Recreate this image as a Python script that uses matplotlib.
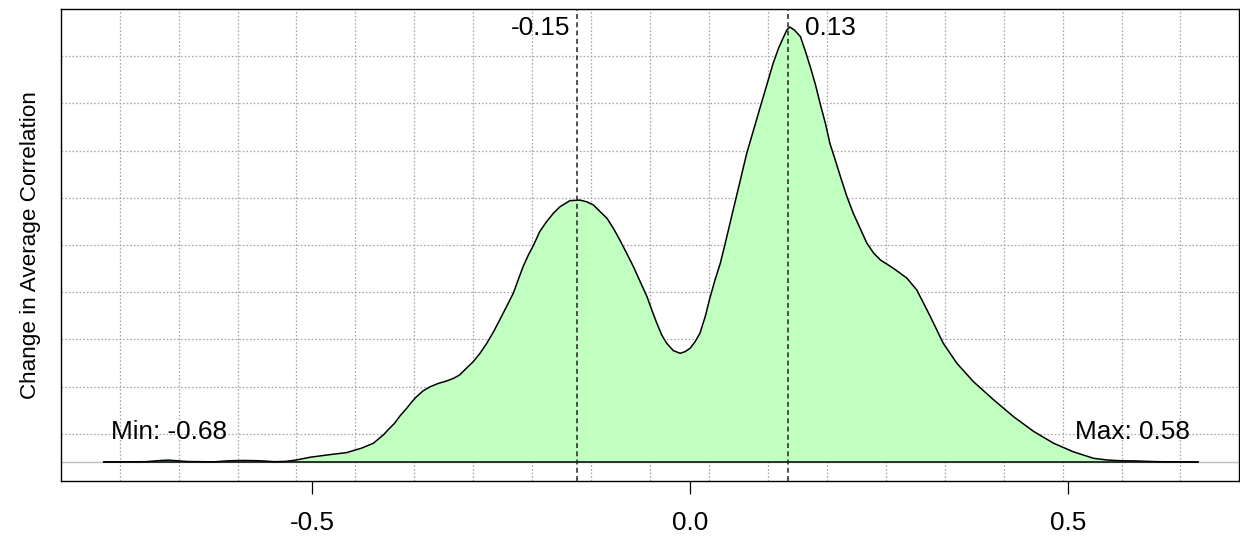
import numpy as np
import matplotlib
matplotlib.use("Agg")
import matplotlib.pyplot as plt

plt.rcParams['font.family'] = ['Liberation Sans', 'DejaVu Sans']

# Density curve of the change in average correlation
corr_change = [-0.776, -0.72, -0.70, -0.69, -0.665, -0.63, -0.61, -0.59, -0.57, -0.55, -0.535,
               -0.521, -0.503, -0.477, -0.455, -0.435, -0.419, -0.406, -0.399, -0.391, -0.384,
               -0.375, -0.368, -0.362, -0.353, -0.344, -0.333, -0.322, -0.313, -0.305, -0.296,
               -0.287, -0.278, -0.269, -0.260, -0.252, -0.243, -0.234, -0.221, -0.214, -0.207,
               -0.199, -0.190, -0.181, -0.172, -0.159, -0.146, -0.137, -0.128, -0.119, -0.110,
               -0.1015, -0.093, -0.084, -0.075, -0.066, -0.057, -0.0507, -0.044, -0.0375, -0.031,
               -0.022, -0.013, -0.0066, 0.000, 0.0066, 0.013, 0.020, 0.026, 0.033, 0.040,
               0.046, 0.057, 0.066, 0.075, 0.084, 0.093, 0.1015, 0.110, 0.117, 0.124,
               0.128, 0.132, 0.138, 0.146, 0.152, 0.159, 0.166, 0.172, 0.179, 0.185,
               0.192, 0.199, 0.2075, 0.216, 0.225, 0.234, 0.243, 0.252, 0.269, 0.278,
               0.287, 0.300, 0.309, 0.318, 0.335, 0.353, 0.375, 0.402, 0.428, 0.455,
               0.481, 0.507, 0.534, 0.552, 0.57, 0.59, 0.605, 0.62, 0.64, 0.672]
density = [0.000, 0.002, 0.010, 0.012, 0.003, 0.001, 0.008, 0.010, 0.008, 0.002, 0.004,
           0.013, 0.031, 0.048, 0.061, 0.090, 0.123, 0.177, 0.214, 0.254, 0.301,
           0.352, 0.395, 0.428, 0.467, 0.493, 0.515, 0.531, 0.548, 0.570, 0.614,
           0.657, 0.712, 0.778, 0.854, 0.930, 1.017, 1.105, 1.280, 1.356, 1.422,
           1.509, 1.574, 1.629, 1.673, 1.712, 1.716, 1.705, 1.684, 1.640, 1.597,
           1.531, 1.455, 1.368, 1.280, 1.181, 1.083, 0.996, 0.909, 0.832, 0.778,
           0.729, 0.712, 0.723, 0.745, 0.788, 0.843, 0.952, 1.070, 1.193, 1.302,
           1.422, 1.651, 1.836, 2.023, 2.175, 2.328, 2.470, 2.613, 2.710, 2.787,
           2.830, 2.850, 2.830, 2.787, 2.700, 2.590, 2.470, 2.350, 2.220, 2.088,
           1.980, 1.869, 1.739, 1.629, 1.531, 1.433, 1.368, 1.323, 1.269, 1.237,
           1.204, 1.127, 1.040, 0.952, 0.778, 0.647, 0.526, 0.406, 0.297, 0.199,
           0.123, 0.067, 0.024, 0.013, 0.008, 0.007, 0.004, 0.002, 0.001, 0.000]

mode_values = [-0.15, 0.13]
mode_labels = ["-0.15", "0.13"]
min_value = -0.68
max_value = 0.58
xtick_values = [-0.5, 0.0, 0.5]
xtick_labels = ["-0.5", "0.0", "0.5"]
ylabel = "Change in Average Correlation"

x = np.array(corr_change)
d = np.array(density)

fig = plt.figure(figsize=(12.4, 5.37), dpi=100)
ax = fig.add_axes([0.049, 0.1043, 0.9505, 0.879])

xmin, xmax = -0.8328, 0.7269
ymin, ymax = -0.1245, 2.968
ax.set_xlim(xmin, xmax)
ax.set_ylim(ymin, ymax)

grid_kw = dict(color='#a6a6a6', lw=0.9, dashes=(1.3, 1.6), zorder=0.5)
for gx in np.linspace(xmin, xmax, 21)[1:-1]:
    ax.axvline(gx, **grid_kw)
for gy in np.linspace(ymin, ymax, 11)[1:-1]:
    ax.axhline(gy, **grid_kw)

ax.axhline(0, color='#bebebe', lw=1.0, zorder=1)

ax.fill_between(x, 0, d, color='#C1FFC1', lw=0, zorder=2)
ax.plot(x, d, color='black', lw=1.1, zorder=3, solid_joinstyle='round')
ax.plot([x[0], x[-1]], [0, 0], color='black', lw=1.1, zorder=3)

for mv in mode_values:
    ax.axvline(mv, color='#222222', lw=1.1, dashes=(3.2, 2.2), zorder=4)

fs = 18.8
ax.text(-0.1589, 0.96, mode_labels[0], ha='right', va='center', fontsize=fs,
        transform=ax.get_xaxis_transform(), zorder=5)
ax.text(0.1523, 0.96, mode_labels[1], ha='left', va='center', fontsize=fs,
        transform=ax.get_xaxis_transform(), zorder=5)
ax.text(-0.766, 0.104, "Min: %.2f" % min_value, ha='left', va='center', fontsize=fs,
        transform=ax.get_xaxis_transform(), zorder=5)
ax.text(0.662, 0.104, "Max: %.2f" % max_value, ha='right', va='center', fontsize=fs,
        transform=ax.get_xaxis_transform(), zorder=5)

ax.set_xticks(xtick_values)
ax.set_xticklabels(xtick_labels, fontsize=fs)
ax.set_yticks([])
ax.tick_params(axis='x', length=9.5, width=0.9, direction='out', pad=12, color='black')
ax.set_ylabel(ylabel, fontsize=16.2, labelpad=14)

for s in ax.spines.values():
    s.set_color('black')
    s.set_linewidth(1.0)

fig.savefig("out.png", dpi=100, facecolor='white')
